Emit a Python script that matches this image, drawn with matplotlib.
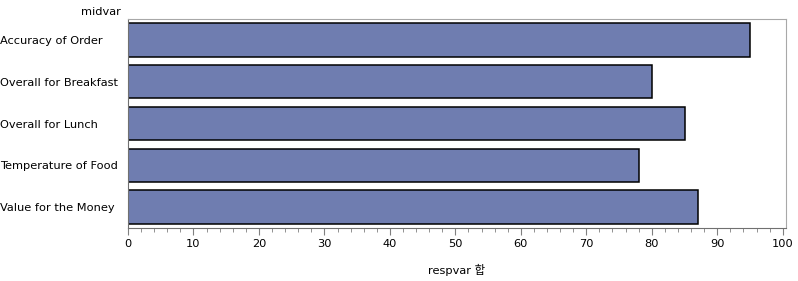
import matplotlib.pyplot as plt
from matplotlib.ticker import MultipleLocator

plt.rcParams['font.family'] = ['DejaVu Sans', 'Noto Sans CJK KR']

categories = ["Accuracy of Order", "Overall for Breakfast", "Overall for Lunch",
              "Temperature of Food", "Value for the Money"]
values = [95, 80, 85, 78, 87]

fig = plt.figure(figsize=(7.98, 2.81), dpi=100)
ax = fig.add_axes([128/798, 1 - 228/281, 658/798, 209/281])

ypos = list(range(len(categories)))
ax.barh(ypos, values, height=0.8, color="#6F7DB0", edgecolor="black", linewidth=1.1)

ax.set_ylim(4.5, -0.5)
ax.set_xlim(0, 100.5)
ax.set_yticks(ypos)
ax.set_yticklabels(categories, fontsize=8.2)
for lab in ax.get_yticklabels():
    lab.set_horizontalalignment("left")
ax.tick_params(axis="y", length=0, pad=92)

ax.xaxis.set_major_locator(MultipleLocator(10))
ax.xaxis.set_minor_locator(MultipleLocator(2))
ax.tick_params(axis="x", which="major", length=5, color="#808080", labelsize=8.2, pad=3)
ax.tick_params(axis="x", which="minor", length=3, color="#808080")

for s in ["top", "right"]:
    ax.spines[s].set_color("#a8a8a8")
for s in ["left", "bottom"]:
    ax.spines[s].set_color("#707070")

ax.set_xlabel("respvar 합", fontsize=8.2, labelpad=11)
fig.text(121/798, 1 - 12/281, "midvar", ha="right", va="center", fontsize=8.2)

fig.savefig("out.png", dpi=100)
